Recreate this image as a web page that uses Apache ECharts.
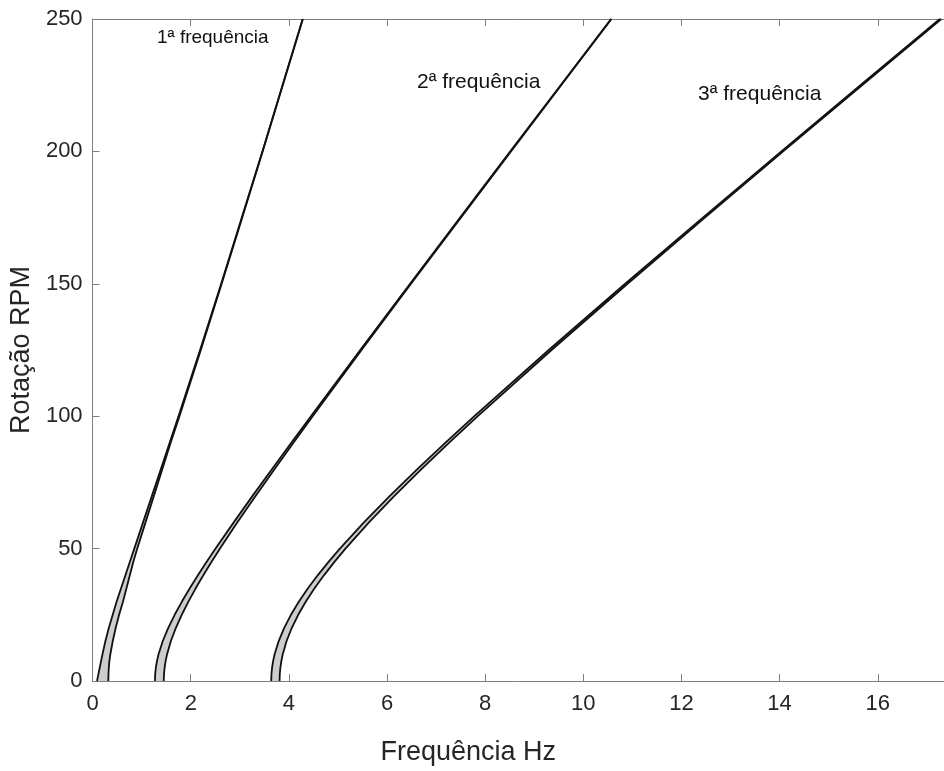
<!DOCTYPE html>
<html>
<head>
<meta charset="utf-8">
<title>Diagrama de Campbell</title>
<script src="https://cdn.jsdelivr.net/npm/echarts@6/dist/echarts.min.js"></script>
<style>
  html, body { margin: 0; padding: 0; background: #ffffff; }
  #chart { width: 944px; height: 771px; }
</style>
</head>
<body>
<div id="chart"></div>
<script>
// Rotação (RPM) em que cada frequência foi avaliada
const rpm = [0, 2.5, 5, 7.5, 10, 15, 20, 25, 30, 35, 40, 45, 50, 60, 70, 80, 90, 100, 125, 150, 175, 200, 225, 250];

// Limites inferior e superior (Hz) de cada faixa de frequência
const freq1Low  = [0.09, 0.117, 0.145, 0.172, 0.20, 0.26, 0.33, 0.41, 0.49, 0.58, 0.67, 0.76, 0.85, 1.03, 1.21, 1.39, 1.57, 1.75, 2.19, 2.62, 3.04, 3.46, 3.87, 4.28];
const freq1High = [0.32, 0.323, 0.33, 0.342, 0.36, 0.41, 0.47, 0.54, 0.62, 0.69, 0.76, 0.83, 0.91, 1.08, 1.25, 1.42, 1.59, 1.77, 2.205, 2.63, 3.05, 3.465, 3.875, 4.285];

const freq2Low  = [1.27, 1.2747, 1.2884, 1.3111, 1.3423, 1.4279, 1.5395, 1.672, 1.8202, 1.9803, 2.1488, 2.3245, 2.5059, 2.8795, 3.263, 3.6537, 4.049, 4.4486, 5.4544, 6.469, 7.4888, 8.5116, 9.537, 10.5644];
const freq2High = [1.45, 1.4543, 1.4670, 1.4879, 1.5163, 1.5939, 1.6955, 1.816, 1.9522, 2.1003, 2.2588, 2.4245, 2.5959, 2.9535, 3.325, 3.7057, 4.093, 4.4846, 5.4804, 6.489, 7.5048, 8.5256, 9.549, 10.5744];

const freq3Low  = [3.64, 3.6442, 3.6570, 3.6783, 3.7076, 3.7902, 3.9024, 4.0415, 4.2045, 4.3884, 4.5905, 4.8081, 5.0391, 5.5341, 6.0631, 6.6176, 7.1913, 7.7795, 9.2952, 10.8526, 12.4355, 14.0351, 15.6460, 17.2651];
const freq3High = [3.81, 3.8140, 3.8260, 3.8459, 3.8736, 3.9514, 4.0578, 4.1901, 4.3459, 4.5226, 4.7175, 4.9283, 5.1529, 5.6361, 6.1551, 6.7010, 7.2673, 7.8493, 9.3528, 10.9014, 12.4779, 14.0725, 15.6794, 17.2953];

const bandNames = ['1ª frequência', '2ª frequência', '3ª frequência'];

// Marcas dos eixos
const xTicks = [0, 2, 4, 6, 8, 10, 12, 14, 16];
const yTicks = [0, 50, 100, 150, 200, 250];

const bands = [
  [freq1Low, freq1High],
  [freq2Low, freq2High],
  [freq3Low, freq3High]
];

function pairs(xs) {
  return xs.map((x, i) => [x, rpm[i]]);
}

// Polígono fechado: limite inferior subindo, limite superior descendo
function bandPolygon(low, high) {
  return pairs(low).concat(pairs(high).reverse());
}

const FONT = '"Liberation Sans", Arial, Helvetica, sans-serif';
const AXIS_GRAY = '#7f7f7f';
const TEXT_DARK = '#262626';

const series = [];
bands.forEach(([low, high], b) => {
  series.push({
    type: 'custom',
    name: bandNames[b] + ' faixa',
    clip: true,
    silent: true,
    z: 1,
    data: bandPolygon(low, high),
    renderItem: function (params, api) {
      if (params.dataIndex !== 0) return null;
      const poly = bandPolygon(low, high).map(p => api.coord(p));
      return {
        type: 'polygon',
        shape: { points: poly },
        style: { fill: '#cdcdcd', stroke: null }
      };
    }
  });
  [low, high].forEach((edge, k) => {
    series.push({
      type: 'line',
      name: bandNames[b] + (k === 0 ? ' inferior' : ' superior'),
      data: pairs(edge),
      showSymbol: false,
      silent: true,
      clip: true,
      z: 3,
      lineStyle: { color: '#111111', width: 1.8, join: 'round' }
    });
  });
});

const chart = echarts.init(document.getElementById('chart'), null, { renderer: 'canvas' });

const xCommon = {
  type: 'value',
  min: 0,
  max: 17.35,
  interval: 2,
  splitLine: { show: false },
  axisLine: { show: true, lineStyle: { color: AXIS_GRAY, width: 1 } },
  axisTick: { show: true, inside: true, length: 7, lineStyle: { color: AXIS_GRAY } }
};

chart.setOption({
  animation: false,
  backgroundColor: '#ffffff',
  grid: { left: 89, right: 0, top: 19, bottom: 85, containLabel: false },
  xAxis: [
    Object.assign({}, xCommon, {
      position: 'bottom',
      name: 'Frequência Hz',
      nameLocation: 'middle',
      nameGap: 58,
      nameTextStyle: { fontFamily: FONT, fontSize: 27, color: TEXT_DARK, padding: [0, 100, 0, 0] },
      axisLabel: {
        show: true,
        margin: 12,
        fontFamily: FONT,
        fontSize: 22,
        color: TEXT_DARK,
        showMaxLabel: false,
        formatter: v => (xTicks.indexOf(v) >= 0 ? String(v) : '')
      }
    }),
    Object.assign({}, xCommon, {
      position: 'top',
      axisLabel: { show: false }
    })
  ],
  yAxis: {
    type: 'value',
    min: 0,
    max: 250,
    interval: 50,
    name: 'Rotação RPM',
    nameLocation: 'middle',
    nameRotate: 90,
    nameGap: 50,
    nameTextStyle: { fontFamily: FONT, fontSize: 27, color: TEXT_DARK },
    splitLine: { show: false },
    axisLine: { show: true, lineStyle: { color: AXIS_GRAY, width: 1 } },
    axisTick: { show: true, inside: true, length: 7, lineStyle: { color: AXIS_GRAY } },
    axisLabel: {
      margin: 10,
      fontFamily: FONT,
      fontSize: 22,
      color: TEXT_DARK,
      formatter: v => (yTicks.indexOf(v) >= 0 ? String(v) : '')
    }
  },
  graphic: [
    { type: 'text', left: 157, top: 28, style: { text: bandNames[0], font: '19px ' + FONT, fill: '#111111' } },
    { type: 'text', left: 417, top: 72, style: { text: bandNames[1], font: '21px ' + FONT, fill: '#111111' } },
    { type: 'text', left: 698, top: 84, style: { text: bandNames[2], font: '21px ' + FONT, fill: '#111111' } }
  ],
  series: series
});
</script>
</body>
</html>
